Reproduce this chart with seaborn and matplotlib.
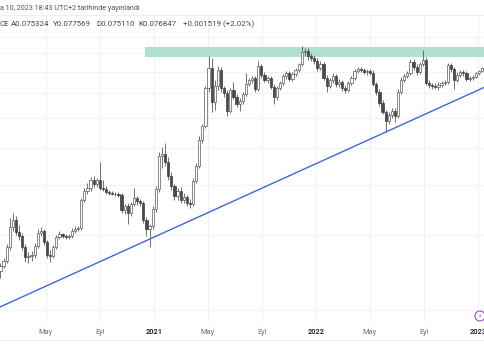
import numpy as np
import pandas as pd
import seaborn as sns
import matplotlib.pyplot as plt
import matplotlib.dates as mdates
from matplotlib.lines import Line2D
from matplotlib.patches import Ellipse
from matplotlib.ticker import NullLocator

# Weekly candles (ETH/BTC), first week starts 2020-01-06
week_start = '2020-01-06'
opens = [0.01839, 0.01877, 0.01954, 0.02022, 0.02092, 0.02299, 0.02632, 0.02759, 0.02545, 0.02477,
         0.02299, 0.02149, 0.02163, 0.02178, 0.02315, 0.02528, 0.02562, 0.02378, 0.02178, 0.02163,
         0.02299, 0.02460, 0.02511, 0.02477, 0.02460, 0.02477, 0.02562, 0.02597, 0.02614, 0.03158,
         0.03356, 0.03425, 0.03615, 0.03519, 0.03615, 0.03425, 0.03402, 0.03333, 0.03311, 0.03289,
         0.03286, 0.03267, 0.02952, 0.03033, 0.02892, 0.03074, 0.03201, 0.03137, 0.03095, 0.02759,
         0.02597, 0.02650, 0.02972, 0.03402, 0.04251, 0.04309, 0.04083, 0.03714, 0.03471, 0.03245,
         0.03356, 0.03158, 0.03223, 0.03095, 0.03074, 0.03591, 0.03974, 0.04737, 0.05208, 0.06731,
         0.07705, 0.06124, 0.06823, 0.07601, 0.06731, 0.06508, 0.05762, 0.06641, 0.06334, 0.06041,
         0.06165, 0.06464, 0.06916, 0.07106, 0.07202, 0.06686, 0.07810, 0.07349, 0.07106, 0.07202,
         0.06777, 0.06334, 0.06731, 0.06963, 0.07299, 0.07449, 0.07154, 0.07399, 0.07601, 0.07917,
         0.08585, 0.08643, 0.08356, 0.08244, 0.08079, 0.07705, 0.07917, 0.07202, 0.06823, 0.07106,
         0.07299, 0.06916, 0.07010, 0.06731, 0.06641, 0.06963, 0.07202, 0.07550, 0.07653, 0.07601,
         0.07499, 0.07550, 0.07449, 0.06916, 0.06552, 0.06082, 0.05723, 0.05386, 0.05609, 0.05762,
         0.05571, 0.06552, 0.07106, 0.07299, 0.07449, 0.08024, 0.07757, 0.07499, 0.07917, 0.08133,
         0.06963, 0.06869, 0.06823, 0.06777, 0.06869, 0.06963, 0.07010, 0.07863, 0.07653, 0.07106,
         0.07349, 0.07499, 0.07449, 0.07154, 0.07202, 0.07251, 0.07449, 0.075324]
highs = [0.01890, 0.01994, 0.02064, 0.02135, 0.02346, 0.02797, 0.02892, 0.02834, 0.02668, 0.02528,
         0.02346, 0.02223, 0.02238, 0.02362, 0.02597, 0.02632, 0.02597, 0.02411, 0.02253, 0.02331,
         0.02494, 0.02562, 0.02528, 0.02511, 0.02511, 0.02614, 0.02650, 0.02650, 0.03201, 0.03425,
         0.03542, 0.03689, 0.03714, 0.03664, 0.04083, 0.03615, 0.03471, 0.03379, 0.03356, 0.03333,
         0.03333, 0.03311, 0.03074, 0.03095, 0.03116, 0.03425, 0.03245, 0.03180, 0.03137, 0.02816,
         0.02686, 0.03033, 0.03471, 0.04368, 0.04518, 0.04642, 0.04223, 0.03816, 0.03519, 0.03425,
         0.03448, 0.03311, 0.03267, 0.03180, 0.03664, 0.04055, 0.04867, 0.05278, 0.06823, 0.08356,
         0.08244, 0.07106, 0.07810, 0.07757, 0.06823, 0.06641, 0.06731, 0.07010, 0.06464, 0.06291,
         0.06552, 0.07449, 0.07202, 0.07299, 0.07299, 0.08079, 0.07917, 0.07499, 0.07299, 0.07299,
         0.06916, 0.06823, 0.07058, 0.07399, 0.07550, 0.07550, 0.07499, 0.07705, 0.07970, 0.08940,
         0.08820, 0.08820, 0.08527, 0.08413, 0.08244, 0.08079, 0.08024, 0.07349, 0.07202, 0.07449,
         0.07399, 0.07154, 0.07106, 0.06869, 0.07058, 0.07299, 0.07653, 0.07757, 0.07757, 0.07705,
         0.07653, 0.07653, 0.07601, 0.07010, 0.06686, 0.06207, 0.05801, 0.05723, 0.05880, 0.05880,
         0.06686, 0.07251, 0.07399, 0.07550, 0.08189, 0.08189, 0.07917, 0.08024, 0.08702, 0.08300,
         0.07106, 0.06963, 0.06963, 0.07010, 0.07058, 0.07106, 0.07970, 0.07970, 0.07757, 0.07499,
         0.07601, 0.07601, 0.07550, 0.07299, 0.07349, 0.07499, 0.07601, 0.077569]
lows = [0.01803, 0.01852, 0.01864, 0.01994, 0.02064, 0.02253, 0.02562, 0.02494, 0.02411, 0.02253,
        0.02078, 0.02064, 0.02092, 0.02135, 0.02284, 0.02477, 0.02331, 0.02135, 0.02078, 0.02135,
        0.02268, 0.02427, 0.02443, 0.02427, 0.02427, 0.02443, 0.02528, 0.02562, 0.02579, 0.03116,
        0.03289, 0.03356, 0.03448, 0.03448, 0.03379, 0.03356, 0.03289, 0.03267, 0.03267, 0.03245,
        0.03223, 0.02892, 0.02873, 0.02686, 0.02834, 0.03033, 0.03054, 0.03033, 0.02704, 0.02477,
        0.02299, 0.02597, 0.02912, 0.03333, 0.03920, 0.03974, 0.03615, 0.03379, 0.03158, 0.03158,
        0.03095, 0.03095, 0.03033, 0.02992, 0.03033, 0.03542, 0.03920, 0.04642, 0.05137, 0.06552,
        0.05723, 0.05801, 0.06641, 0.06552, 0.06334, 0.05571, 0.05685, 0.06249, 0.05920, 0.05762,
        0.06041, 0.06377, 0.06823, 0.06963, 0.06552, 0.06596, 0.07202, 0.07010, 0.06963, 0.06686,
        0.06041, 0.06207, 0.06641, 0.06869, 0.07154, 0.07058, 0.07058, 0.07299, 0.07499, 0.07810,
        0.08356, 0.08133, 0.08079, 0.07917, 0.07550, 0.07601, 0.07106, 0.06552, 0.06731, 0.06963,
        0.06777, 0.06777, 0.06596, 0.06508, 0.06552, 0.06869, 0.07106, 0.07449, 0.07499, 0.07399,
        0.07349, 0.07349, 0.06823, 0.06420, 0.05960, 0.05647, 0.05000, 0.05278, 0.05497, 0.05350,
        0.05497, 0.06464, 0.07010, 0.07202, 0.07349, 0.07601, 0.07349, 0.07399, 0.07810, 0.06869,
        0.06731, 0.06686, 0.06686, 0.06641, 0.06777, 0.06869, 0.06916, 0.07499, 0.06686, 0.07010,
        0.07251, 0.07299, 0.07058, 0.07058, 0.07106, 0.07202, 0.07349, 0.075110]
closes = [0.01877, 0.01954, 0.02022, 0.02092, 0.02299, 0.02632, 0.02759, 0.02545, 0.02477, 0.02299,
          0.02149, 0.02163, 0.02178, 0.02315, 0.02528, 0.02562, 0.02378, 0.02178, 0.02163, 0.02299,
          0.02460, 0.02511, 0.02477, 0.02460, 0.02477, 0.02562, 0.02597, 0.02614, 0.03158, 0.03356,
          0.03425, 0.03615, 0.03519, 0.03615, 0.03425, 0.03402, 0.03333, 0.03311, 0.03289, 0.03286,
          0.03267, 0.02952, 0.03033, 0.02892, 0.03074, 0.03201, 0.03137, 0.03095, 0.02759, 0.02597,
          0.02650, 0.02972, 0.03402, 0.04251, 0.04309, 0.04083, 0.03714, 0.03471, 0.03245, 0.03356,
          0.03158, 0.03223, 0.03095, 0.03074, 0.03591, 0.03974, 0.04737, 0.05208, 0.06731, 0.07705,
          0.06124, 0.06823, 0.07601, 0.06731, 0.06508, 0.05762, 0.06641, 0.06334, 0.06041, 0.06165,
          0.06464, 0.06916, 0.07106, 0.07202, 0.06686, 0.07810, 0.07349, 0.07106, 0.07202, 0.06777,
          0.06334, 0.06731, 0.06963, 0.07299, 0.07449, 0.07154, 0.07399, 0.07601, 0.07917, 0.08585,
          0.08643, 0.08356, 0.08244, 0.08079, 0.07705, 0.07917, 0.07202, 0.06823, 0.07106, 0.07299,
          0.06916, 0.07010, 0.06731, 0.06641, 0.06963, 0.07202, 0.07550, 0.07653, 0.07601, 0.07499,
          0.07550, 0.07449, 0.06916, 0.06552, 0.06082, 0.05723, 0.05386, 0.05609, 0.05762, 0.05571,
          0.06552, 0.07106, 0.07299, 0.07449, 0.08024, 0.07757, 0.07499, 0.07917, 0.08133, 0.06963,
          0.06869, 0.06823, 0.06777, 0.06869, 0.06963, 0.07010, 0.07863, 0.07653, 0.07106, 0.07349,
          0.07499, 0.07449, 0.07154, 0.07202, 0.07251, 0.07449, 0.075324, 0.076847]

# resistance zone and rising trend line
band_start = '2020-12-10'
band_low, band_high = 0.0828, 0.0890
trend_dates = ['2020-01-19', '2023-01-16']
trend_prices = [0.01533, 0.06777]

grid_prices = [0.015, 0.025, 0.035, 0.045, 0.055, 0.065, 0.075, 0.085, 0.095]
tick_dates = ['2020-01-01', '2020-05-01', '2020-09-01', '2021-01-01', '2021-05-01', '2021-09-01',
              '2022-01-01', '2022-05-01', '2022-09-01', '2023-01-01']
tick_labels = ['2020', 'May', 'Eyl', '2021', 'May', 'Eyl', '2022', 'May', 'Eyl', '2023']

header_1 = "a 10, 2023 18:43 UTC+2 tarihinde yayınlandı"
legend_items = ['CE', 'A0.075324', 'Y0.077569', 'D0.075110', 'K0.076847', '+0.001519 (+2.02%)']

sns.set_style('white')
plt.rcParams['font.family'] = ['Roboto', 'DejaVu Sans']

o = np.array(opens)
h = np.array(highs)
l = np.array(lows)
c = np.array(closes)
dates = pd.date_range(week_start, periods=len(c), freq='W-MON')
x = mdates.date2num(dates)
up = c >= o

W, H = 485, 360
fig = plt.figure(figsize=(W / 100, H / 100), dpi=100)
top_px, bot_px = 15, 322
ax = fig.add_axes([0, 1 - bot_px / H, 1, (bot_px - top_px) / H])
ax.set_yscale('log')

# candles
ax.vlines(x, l, h, color='#5a5a5a', lw=0.6, zorder=3)
ax.bar(x[up], (c - o)[up], bottom=o[up], width=5, color='white',
       edgecolor='#5a5a5a', lw=0.5, zorder=4)
ax.bar(x[~up], (o - c)[~up], bottom=c[~up], width=5, color='#4a4a4a',
       edgecolor='#3e3e3e', lw=0.5, zorder=4)

# zone
bx = mdates.date2num(pd.Timestamp(band_start))
ax.fill_between([bx, bx + 2000], band_low, band_high, color='#b2dfd4', lw=0, zorder=2)

# trend line
tx = mdates.date2num(pd.to_datetime(trend_dates))
sns.lineplot(x=tx, y=trend_prices, ax=ax, color='#3d68d8', lw=1.0, zorder=5)

# grid (ticks first: set_xticks widens the view, limits are set afterwards)
tk = mdates.date2num(pd.to_datetime(tick_dates))
ax.set_xticks(tk)
ax.set_yticks(grid_prices)
ax.yaxis.set_minor_locator(NullLocator())
ax.xaxis.set_minor_locator(NullLocator())
ax.tick_params(length=0, labelbottom=False, labelleft=False)
ax.grid(True, color='#f0f2f6', lw=0.8, zorder=0)

x0 = mdates.date2num(pd.Timestamp('2020-01-19'))
x1 = mdates.date2num(pd.Timestamp('2023-01-15 22:00'))
ax.set_xlim(x0, x1)
ax.set_ylim(0.01385, 0.11024)

for s in ['left', 'right', 'bottom']:
    ax.spines[s].set_visible(False)
ax.spines['top'].set_color('#eceef2')
ax.spines['top'].set_linewidth(0.8)

for d, lab in zip(tk, tick_labels):
    year = lab.isdigit()
    ax.text(d, -10 / (bot_px - top_px), lab, transform=ax.get_xaxis_transform(),
            ha='center', va='center', fontsize=5.3, clip_on=False,
            color='#2a2e39' if year else '#6a6d78', fontweight='bold' if year else 'normal')

fig.add_artist(Line2D([0, 1], [1 - 340 / H] * 2, transform=fig.transFigure, color='#eef0f3', lw=0.8))

fig.text(0.0, 1 - 8 / H, header_1, ha='left', va='center', fontsize=5.2, color='#50535e')
for px, item in zip([0, 11, 53, 96, 138, 183], legend_items):
    fig.text(px / W, 1 - 24 / H, item, ha='left', va='center', fontsize=5.7, color='#434651')

# small lightning badge at bottom right
fig.add_artist(Ellipse((480 / W, 1 - 316 / H), 10 / W, 10 / H, transform=fig.transFigure,
                       facecolor='white', edgecolor='#a04bc8', lw=0.8))
fig.text(480 / W, 1 - 316 / H, '⚡', ha='center', va='center', fontsize=4.5,
         color='#a04bc8', family=['DejaVu Sans'])

fig.savefig('out.png', dpi=100, facecolor='white')
